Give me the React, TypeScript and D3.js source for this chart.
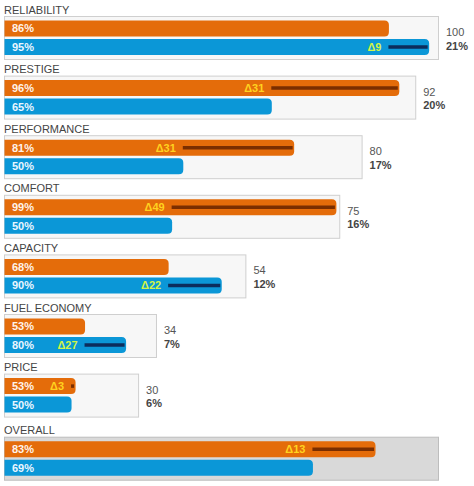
import React from "react";
import * as d3 from "d3";

const categories = ["RELIABILITY", "PRESTIGE", "PERFORMANCE", "COMFORT", "CAPACITY", "FUEL ECONOMY", "PRICE", "OVERALL"];
const orangeValues = [86, 96, 81, 99, 68, 53, 53, 83];
const blueValues = [95, 65, 50, 50, 90, 80, 50, 69];
const deltaValues = [9, 31, 31, 49, 22, 27, 3, 13];
const weights = [100, 92, 80, 75, 54, 34, 30, 100];
const weightLabels = ["100", "92", "80", "75", "54", "34", "30", ""];
const shareLabels = ["21%", "20%", "17%", "16%", "12%", "7%", "6%", ""];

const W = 474;
const H = 486;
const ORANGE = "#e46c0a";
const BLUE = "#0b97d7";
const FONT = "'Liberation Sans', Arial, sans-serif";

function barPath(x: number, y: number, w: number, h: number, r: number) {
  const rr = Math.min(r, w / 2, h / 2);
  return `M${x},${y}H${x + w - rr}Q${x + w},${y} ${x + w},${y + rr}V${y + h - rr}Q${x + w},${y + h} ${x + w - rr},${y + h}H${x}Z`;
}

export default function App() {
  const x0 = 4;
  const x = d3.scaleLinear().domain([0, 100]).range([0, 447]);
  const maxBox = 434;
  const pitch = 59.6;
  const groupY = (i: number) => i * pitch + (i === categories.length - 1 ? 3.5 : 0);

  return (
    <svg width={W} height={H} style={{ position: "absolute", left: 0, top: 0, background: "#fff" }} fontFamily={FONT}>
      {categories.map((cat, i) => {
        const g = groupY(i);
        const isOverall = i === categories.length - 1;
        const wgt = weights[i];
        const boxW = Math.min(x(wgt), maxBox);
        const oLen = x((wgt * orangeValues[i]) / 100);
        const bLen = x((wgt * blueValues[i]) / 100);
        const oY = g + 20.5;
        const bY = g + 39;
        const bh = 16;
        const diff = orangeValues[i] - blueValues[i];
        const onOrange = diff > 0;
        const lineStart = x0 + Math.min(oLen, bLen);
        const lineEnd = x0 + Math.max(oLen, bLen) - 1;
        const lineY = (onOrange ? oY : bY) + bh / 2;
        return (
          <g key={cat}>
            <text x={4} y={g + 13.5} fontSize={11} fill="#444">{cat}</text>
            <rect
              x={x0 + 0.5}
              y={g + 16.5}
              width={boxW}
              height={43}
              fill={isOverall ? "#d9d9d9" : "#f7f7f7"}
              stroke={isOverall ? "#bdbdbd" : "#cfcfcf"}
              strokeWidth={1}
            />
            <path d={barPath(x0 + 0.5, oY, oLen, bh, 4.5)} fill={ORANGE} />
            <path d={barPath(x0 + 0.5, bY, bLen, bh, 4.5)} fill={BLUE} />
            <text x={12} y={oY + bh / 2} dy="0.36em" fontSize={11} fontWeight="bold" fill="#fff3ea">{orangeValues[i]}%</text>
            <text x={12} y={bY + bh / 2} dy="0.36em" fontSize={11} fontWeight="bold" fill="#eaf6ff">{blueValues[i]}%</text>
            {diff !== 0 && (
              <g>
                <line
                  x1={lineStart}
                  x2={lineEnd}
                  y1={lineY}
                  y2={lineY}
                  stroke={onOrange ? "#7a2e00" : "#0c2d5c"}
                  strokeWidth={3.5}
                />
                <text
                  x={lineStart - 7}
                  y={lineY}
                  dy="0.36em"
                  textAnchor="end"
                  fontSize={11}
                  fontWeight="bold"
                  fill={onOrange ? "#ffd21f" : "#d2f545"}
                >
                  {"\u0394" + deltaValues[i]}
                </text>
              </g>
            )}
            {!isOverall && (
              <g>
                <text x={x0 + boxW + 8} y={g + 36} fontSize={11} fill="#555">{weightLabels[i]}</text>
                <text x={x0 + boxW + 8} y={g + 49.5} fontSize={11} fontWeight="bold" fill="#444">{shareLabels[i]}</text>
              </g>
            )}
          </g>
        );
      })}
    </svg>
  );
}
